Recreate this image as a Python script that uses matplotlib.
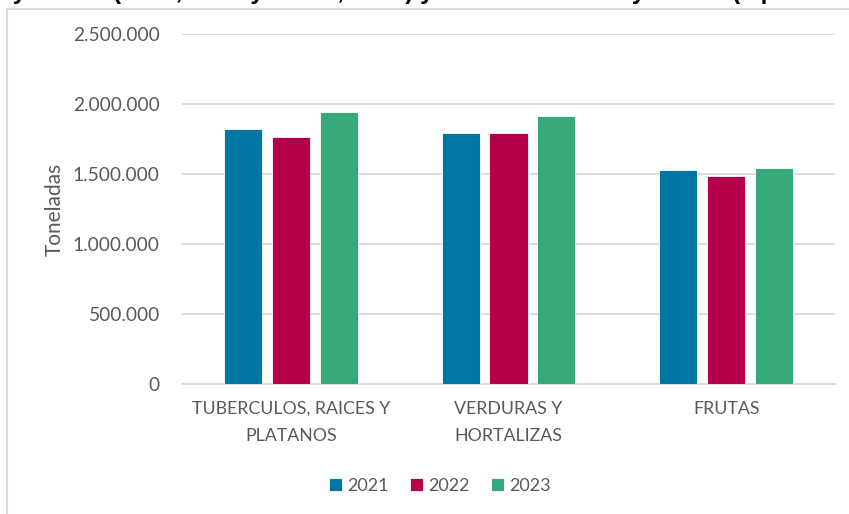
import numpy as np
import matplotlib
matplotlib.use("Agg")
import matplotlib.pyplot as plt
from matplotlib.patches import Rectangle
from matplotlib.ticker import FuncFormatter

#### data
categorias = ["TUBERCULOS, RAICES Y\nPLATANOS", "VERDURAS Y\nHORTALIZAS", "FRUTAS"]
anios = ["2021", "2022", "2023"]
v2021 = [1821000, 1793000, 1526000]
v2022 = [1764000, 1793000, 1486000]
v2023 = [1943000, 1916000, 1543000]
colores = ["#0076A3", "#B5004B", "#36A97A"]
titulo = "ayoristas (2021, 2022 y enero, 2023) y 32 mercados mayoristas (a partir"

plt.rcParams['font.family'] = ['Lato', 'DejaVu Sans']

fig = plt.figure(figsize=(8.49, 5.14), dpi=100)
W, H = 849, 514
ax = fig.add_axes([182/W, 1-384/H, (835-182)/W, (384-34)/H])

x = np.arange(len(categorias))
ancho = 0.175
paso = 0.22
for i, (serie, anio) in enumerate(zip([v2021, v2022, v2023], anios)):
    ax.bar(x + (i-1)*paso, serie, ancho, color=colores[i], label=anio,
           edgecolor='white', linewidth=0.6, zorder=3)

ax.set_xlim(-0.5, 2.5)
ax.set_ylim(0, 2500000)
ax.set_yticks(np.arange(0, 2500001, 500000))
ax.yaxis.set_major_formatter(FuncFormatter(lambda v, p: f"{int(v):,}".replace(",", ".")))
ax.grid(axis='y', color='#d9d9d9', linewidth=1.3, zorder=0)
for s in ['top', 'right', 'left']:
    ax.spines[s].set_visible(False)
ax.spines['bottom'].set_color('#d9d9d9')
ax.spines['bottom'].set_linewidth(1.3)
ax.tick_params(axis='both', length=0, colors='#595959')
ax.tick_params(axis='y', pad=16, labelsize=13.8)
ax.tick_params(axis='x', pad=12, labelsize=12.8)
ax.set_xticks(x)
ax.set_xticklabels(categorias, linespacing=1.85)
ax.set_ylabel("Toneladas", fontsize=15, color='#595959', labelpad=6)

ax.legend(loc='center', bbox_to_anchor=(440/W, 1-486/H), bbox_transform=fig.transFigure,
          ncol=3, frameon=False, fontsize=13, handlelength=0.7, handleheight=0.7,
          handletextpad=0.3, columnspacing=1.2, labelcolor='#595959')

# marco del grafico
fig.patches.append(Rectangle((7/W, -0.1), 1.2, 1.1 - 9/H, transform=fig.transFigure,
                             fill=False, edgecolor='#d9d9d9', linewidth=1.5))

# titulo recortado (asi aparece en la imagen original)
fig.text(-1/W, 1+1.5/H, titulo, fontsize=17.6, fontweight='bold', color='black',
         ha='left', va='baseline', family='Liberation Sans')

fig.savefig("out.png", dpi=100)
